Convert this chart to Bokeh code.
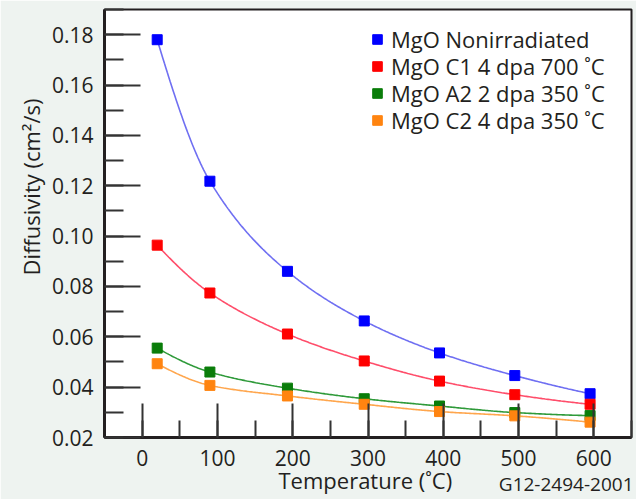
import numpy as np
from bokeh.plotting import figure
from bokeh.models import (Range1d, SingleIntervalTicker, PrintfTickFormatter,
                          Title, Legend, LegendItem)
from bokeh.embed import file_html
from bokeh.resources import INLINE

# ---- data ----
temperature = [20, 90, 193, 295, 395, 495, 595]
nonirradiated = [0.1780, 0.1218, 0.0860, 0.0663, 0.0536, 0.0446, 0.0374]
c1_4dpa_700 = [0.0964, 0.0774, 0.0611, 0.0504, 0.0424, 0.0370, 0.0332]
a2_2dpa_350 = [0.0555, 0.0460, 0.0396, 0.0354, 0.0325, 0.0299, 0.0287]
c2_4dpa_350 = [0.0493, 0.0407, 0.0365, 0.0332, 0.0303, 0.0286, 0.0261]

series_names = ["MgO Nonirradiated", "MgO C1 4 dpa 700 \u02daC",
                "MgO A2 2 dpa 350 \u02daC", "MgO C2 4 dpa 350 \u02daC"]
series_values = [nonirradiated, c1_4dpa_700, a2_2dpa_350, c2_4dpa_350]
marker_colors = ["#0000ff", "#ff0000", "#0a7d0a", "#ff8410"]
line_colors = ["#6f6ff2", "#ff4d6a", "#2f9a3a", "#ffa64d"]

x_label = "Temperature (\u02daC)"
y_label = "Diffusivity (cm\u00b2/s)"
code_label = "G12-2494-2001"

FONT = "Open Sans"
INK = "#231f20"


def pchip(x, y, xs):
    x = np.asarray(x, float)
    y = np.asarray(y, float)
    h = np.diff(x)
    d = np.diff(y) / h
    m = np.zeros_like(y)
    for k in range(1, len(x) - 1):
        if d[k - 1] * d[k] > 0:
            w1 = 2 * h[k] + h[k - 1]
            w2 = h[k] + 2 * h[k - 1]
            m[k] = (w1 + w2) / (w1 / d[k - 1] + w2 / d[k])

    def end(h0, h1, d0, d1):
        mm = ((2 * h0 + h1) * d0 - h0 * d1) / (h0 + h1)
        if np.sign(mm) != np.sign(d0):
            mm = 0.0
        elif np.sign(d0) != np.sign(d1) and abs(mm) > abs(3 * d0):
            mm = 3 * d0
        return mm

    m[0] = end(h[0], h[1], d[0], d[1])
    m[-1] = end(h[-1], h[-2], d[-1], d[-2])
    idx = np.clip(np.searchsorted(x, xs) - 1, 0, len(x) - 2)
    t = (xs - x[idx]) / h[idx]
    h00 = 2 * t**3 - 3 * t**2 + 1
    h10 = t**3 - 2 * t**2 + t
    h01 = -2 * t**3 + 3 * t**2
    h11 = t**3 - t**2
    return (h00 * y[idx] + h10 * h[idx] * m[idx] + h01 * y[idx + 1]
            + h11 * h[idx] * m[idx + 1])


p = figure(width=636, height=499, output_backend="svg", toolbar_location=None,
           x_range=Range1d(-50, 650), y_range=Range1d(0.02, 0.19),
           min_border_left=104, min_border_right=5, min_border_top=9,
           min_border_bottom=62)
p.background_fill_color = "white"
p.border_fill_color = "#eef3f0"
p.outline_line_color = INK
p.outline_line_width = 2
p.grid.visible = False

xa = p.xaxis[0]
xa.ticker = SingleIntervalTicker(interval=100, num_minor_ticks=2)
ya = p.yaxis[0]
ya.ticker = SingleIntervalTicker(interval=0.02, num_minor_ticks=2)
ya.formatter = PrintfTickFormatter(format="%.2f")
for ax, tin, mtin in ((xa, 34, 17), (ya, 36, 19)):
    ax.axis_line_color = INK
    ax.axis_line_width = 3
    ax.major_tick_in = tin
    ax.major_tick_out = 0
    ax.minor_tick_in = mtin
    ax.minor_tick_out = 0
    ax.major_tick_line_color = "#333333"
    ax.minor_tick_line_color = "#333333"
    ax.major_tick_line_width = 2
    ax.minor_tick_line_width = 2
    ax.major_label_text_font = FONT
    ax.major_label_text_font_size = "21px"
    ax.major_label_text_color = INK
xa.major_label_standoff = 12
ya.major_label_standoff = 11

xs = np.linspace(temperature[0], temperature[-1], 300)
legend_bottoms = [383, 356, 329, 302]   # px above the frame bottom
for name, vals, mc, lc, lb in zip(series_names, series_values, marker_colors,
                                  line_colors, legend_bottoms):
    p.line(xs, pchip(temperature, vals, xs), line_color=lc, line_width=1.6)
    r = p.scatter(temperature, vals, marker="square", size=10,
                  fill_color=mc, line_color=mc)
    leg = Legend(items=[LegendItem(label=name, renderers=[r])],
                 location=(261, lb), padding=0, margin=0,
                 spacing=0, glyph_width=24, glyph_height=24, label_standoff=2,
                 label_height=24, border_line_color=None,
                 background_fill_alpha=0,
                 label_text_font=FONT, label_text_font_size="22px",
                 label_text_color=INK)
    p.add_layout(leg)

p.add_layout(Title(text=y_label, align="left", offset=162, standoff=6,
                   text_font=FONT, text_font_size="22px",
                   text_font_style="normal", text_color=INK), "left")
p.add_layout(Title(text=code_label, align="right", offset=-2, standoff=-57,
                   text_font=FONT, text_font_size="19px",
                   text_font_style="normal", text_color=INK), "below")
p.add_layout(Title(text=x_label, align="left", offset=174, standoff=-12,
                   text_font=FONT, text_font_size="22px",
                   text_font_style="normal", text_color=INK), "below")

open("out.html", "w").write(file_html(p, INLINE))
